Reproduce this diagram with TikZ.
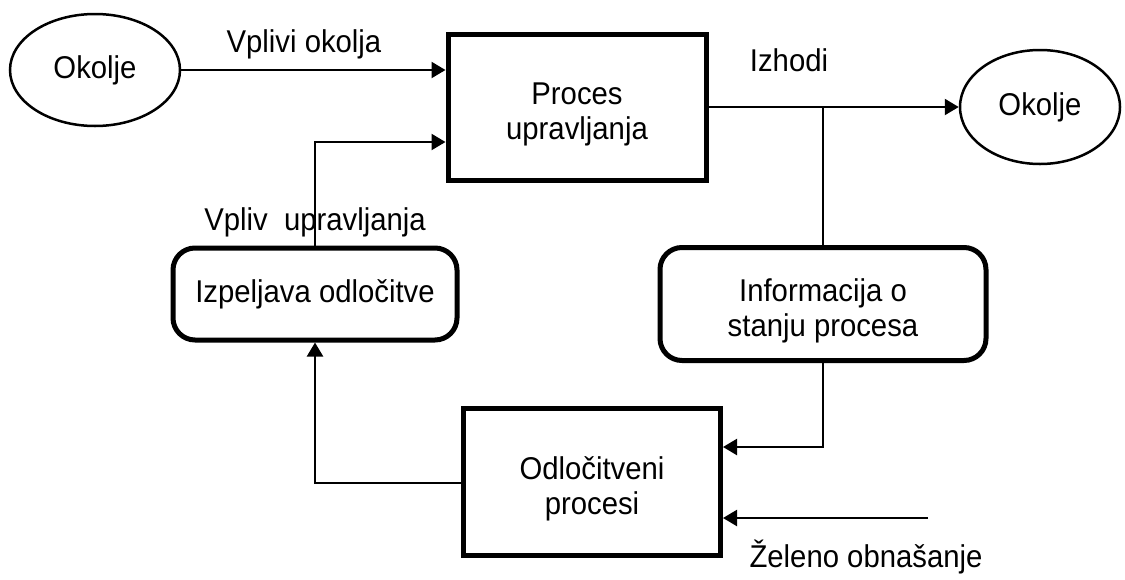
\documentclass[tikz,border=0pt]{standalone}
\usepackage{fontspec}
\setmainfont{Liberation Sans}[FakeStretch=0.93]
\usepackage{tikz}
\usetikzlibrary{shapes.geometric, arrows.meta, positioning}

% two text lines, set a little low in their box
\newcommand{\boxlines}[1]{\raisebox{-8pt}[\height][\depth]{\begin{tabular}{@{}c@{}}#1\end{tabular}}}

\begin{document}
\begin{tikzpicture}[
    x=1pt, y=-1pt,
    font=\fontsize{31.5}{35}\selectfont,
    env/.style={ellipse, draw, line width=2.5pt, minimum width=160pt, minimum height=114pt, inner sep=0pt},
    procbox/.style={rectangle, draw, line width=5pt, minimum width=258pt, minimum height=146pt, align=center},
    infobox/.style={rectangle, rounded corners=22pt, draw, line width=5pt, align=center},
    link/.style={line width=2.2pt},
    flow/.style={line width=2.2pt, -{Triangle[length=14pt, width=16pt]}}
]
\useasboundingbox (0,0) rectangle (1125,579);

% Boxes
\node[env, minimum width=170pt, minimum height=112pt] (envin) at (95,70) {Okolje};
\node[procbox] (proc) at (577,107) {\boxlines{Proces\\upravljanja}};
\node[env] (envout) at (1040,107) {Okolje};
\node[infobox, minimum width=284pt, minimum height=92pt] (deriv) at (315,294) {Izpeljava odločitve};
\node[infobox, minimum width=326pt, minimum height=113pt] (info) at (823,304) {\boxlines{Informacija o\\stanju procesa}};
\node[procbox, minimum width=257pt, minimum height=147pt] (decide) at (592,482) {\boxlines{Odločitveni\\procesi}};

% Bends
\coordinate (split) at (823,107);
\coordinate (down) at (315,483);
\coordinate (up) at (315,142);
\coordinate (side) at (823,447);
\coordinate (goal) at (928,518);

% Connectors
\draw[flow] (envin.east) -- (proc.west |- envin.east);
\draw[flow] (proc.east |- split) -- (envout.west);
\draw[link] (split) -- (info.north);
\draw[flow] (info.south) -- (side) -- (decide.east |- side);
\draw[flow] (goal) -- (decide.east |- goal);
\draw[flow] (decide.west |- down) -- (down) -- (deriv.south);
\draw[flow] (deriv.north) -- (up) -- (proc.west |- up);

% Labels
\node (lblenv) at (304,44) {Vplivi okolja};
\node (lblout) at (789,60) {Izhodi};
\node (lblctrl) at (315,222) {Vpliv\ \ upravljanja};
\node (lblgoal) at (866,557) {Želeno obnašanje};

\end{tikzpicture}
\end{document}
